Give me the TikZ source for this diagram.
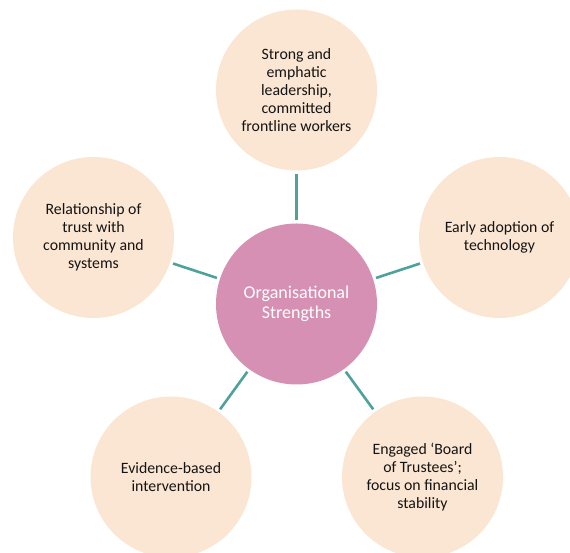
\documentclass[tikz,border=0pt]{standalone}
\usepackage{fontspec}
\setmainfont{Carlito}
\definecolor{peach}{HTML}{FAE6D2}
\definecolor{pinkc}{HTML}{D690B3}
\definecolor{tealc}{HTML}{4FA29B}
\definecolor{txt}{HTML}{141414}
\begin{document}
\begin{tikzpicture}[x=1bp,y=1bp,
  sat/.style={circle,fill=peach,minimum size=161bp,inner sep=0pt,align=center,
    text=txt,font=\fontsize{15.8bp}{18bp}\selectfont},
  hub/.style={circle,fill=pinkc,minimum size=161bp,inner sep=0pt,align=center,
    text=white,font=\fontsize{18bp}{20.5bp}\selectfont},
  link/.style={draw=tealc,line width=2.6bp,shorten <=3bp,shorten >=3bp}]
\useasboundingbox (0,0) rectangle (570,553);
\node[hub] (c) at (296.5,249) {Organisational\\Strengths};
\node[sat] (t) at (296.5,463) {Strong and\\emphatic\\leadership,\\committed\\frontline workers};
\node[sat] (l) at (93.5,315.5) {Relationship of\\trust with\\community and\\systems};
\node[sat] (r) at (499.5,315.5) {Early adoption of\\technology};
\node[sat] (bl) at (171,76) {Evidence-based\\intervention};
\node[sat] (br) at (422.5,76) {Engaged `Board\\of Trustees';\\focus on financial\\stability};
\foreach \s in {t,l,r,bl,br} \draw[link] (c) -- (\s);
\end{tikzpicture}
\end{document}
